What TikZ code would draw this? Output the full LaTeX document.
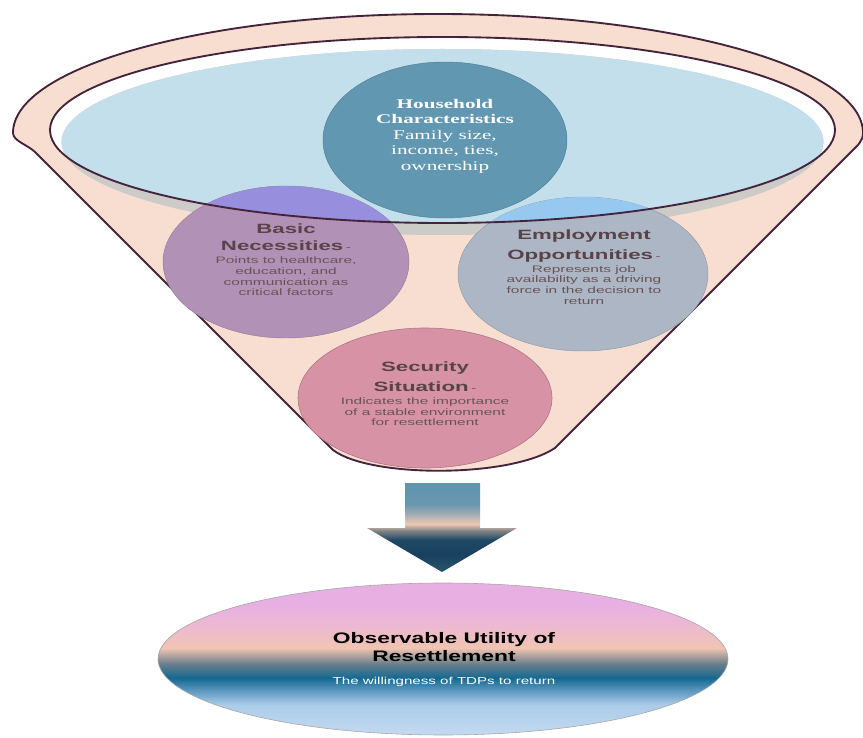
\documentclass[tikz,border=0pt]{standalone}
\usepackage{fontspec}
\setmainfont{Liberation Serif}
\setsansfont{Liberation Sans}
\usetikzlibrary{calc}

% --- Couleurs ---
\definecolor{entonnoir}{RGB}{248,222,208}
\definecolor{bord}{RGB}{68,36,60}
\definecolor{eau}{RGB}{194,223,235}
\definecolor{ombre}{RGB}{205,203,200}
\definecolor{menage}{RGB}{97,151,177}
\definecolor{besoins}{RGB}{178,145,182}
\definecolor{besoinshaut}{RGB}{152,142,222}
\definecolor{emploi}{RGB}{172,182,197}
\definecolor{emploihaut}{RGB}{150,200,240}
\definecolor{securite}{RGB}{215,147,165}
\definecolor{titre}{RGB}{88,68,72}
\definecolor{corps}{RGB}{104,84,88}
% fleche
\definecolor{fa}{RGB}{40,85,110}
\definecolor{fb}{RGB}{25,65,95}
\definecolor{fc}{RGB}{30,72,100}
\definecolor{fd}{RGB}{125,128,132}
\definecolor{fe}{RGB}{238,200,180}
\definecolor{ff}{RGB}{170,175,180}
\definecolor{fg}{RGB}{105,150,175}
\definecolor{fh}{RGB}{95,148,172}
% ellipse du bas
\definecolor{ra}{RGB}{195,218,240}
\definecolor{rb}{RGB}{172,204,234}
\definecolor{rc}{RGB}{90,150,190}
\definecolor{rd}{RGB}{20,105,145}
\definecolor{re}{RGB}{105,126,140}
\definecolor{rf}{RGB}{240,196,178}
\definecolor{rg}{RGB}{236,185,210}
\definecolor{rh}{RGB}{232,176,226}

\pgfdeclareverticalshading{fleche}{100bp}{color(0bp)=(fa); color(25bp)=(fa);
  color(34.6bp)=(fb); color(43bp)=(fc); color(48bp)=(fd); color(52bp)=(fe);
  color(57bp)=(ff); color(63bp)=(fg); color(75bp)=(fh); color(100bp)=(fh)}
\pgfdeclareverticalshading{resultat}{100bp}{color(0bp)=(ra); color(25bp)=(ra);
  color(34.9bp)=(rb); color(39.8bp)=(rc); color(43.75bp)=(rd); color(48.4bp)=(re);
  color(53.6bp)=(rf); color(61.2bp)=(rg); color(67.8bp)=(rh); color(100bp)=(rh)}

\newcommand{\ftitre}[1]{{\color{titre}\bfseries\fontsize{11.5}{13.6}\selectfont #1}}

\tikzset{
  trait/.style={draw=bord, line width=1.6pt, line join=round},
  facteur/.style={align=center, xscale=1.65, text=corps,
    font=\sffamily\fontsize{8}{9.1}\selectfont},
  menagetxt/.style={align=center, xscale=1.6, text=white,
    font=\rmfamily\fontsize{11.3}{13.2}\selectfont},
}

\begin{document}
\begin{tikzpicture}[x=0.03cm, y=-0.03cm]
    \useasboundingbox (0,0) rectangle (863,738);

    % --- Points de construction ---
    \coordinate (C) at (442.5,130);   % centre du bord interieur
    \coordinate (L) at (442.5,142);   % centre du liquide
    \coordinate (M) at (445,140);     % menage
    \coordinate (B) at (286,262);     % besoins de base
    \coordinate (E) at (583,274);     % emploi
    \coordinate (S) at (425,398);     % securite
    \coordinate (R) at (443,659);     % resultat

    % --- Corps de l'entonnoir ---
    \path[fill=entonnoir, trait]
        (333,450) -- (35,152) .. controls (28,145) and (13,141) .. (13,133)
        arc[start angle=180, end angle=360, x radius=425, y radius=119]
        .. controls (863,141) and (858,145) .. (851,152) -- (555,448)
        .. controls (510,478) and (370,478) .. (333,450) -- cycle;

    % --- Liquide et ombre ---
    \fill[white] (C) ellipse[x radius=392.5, y radius=93];
    \fill[ombre] (L) ellipse[x radius=381, y radius=93];
    \begin{scope}
        \clip (C) ellipse[x radius=392.5, y radius=93];
        \fill[eau] (L) ellipse[x radius=381, y radius=93];
    \end{scope}

    % --- Les quatre facteurs ---
    \filldraw[fill=besoins, draw=besoins!85!black, line width=0.4pt]
        (B) ellipse[x radius=123, y radius=76];
    \filldraw[fill=emploi, draw=emploi!85!black, line width=0.4pt]
        (E) ellipse[x radius=125, y radius=77];
    \filldraw[fill=securite, draw=securite!80!black, line width=0.5pt]
        (S) ellipse[x radius=127, y radius=70];
    \begin{scope}
        \clip (C) ellipse[x radius=392.5, y radius=93];
        \fill[besoinshaut] (B) ellipse[x radius=123, y radius=76];
        \fill[emploihaut] (E) ellipse[x radius=125, y radius=77];
    \end{scope}
    \filldraw[fill=menage, draw=menage!85!black, line width=0.4pt]
        (M) ellipse[x radius=122, y radius=78];

    % bord interieur par-dessus
    \draw[trait] (C) ellipse[x radius=392.5, y radius=93];

    % --- Textes ---
    \node[menagetxt] (menage) at (445,136)
        {\textbf{Household}\\\textbf{Characteristics}\\Family size,\\income, ties,\\ownership};
    \node[facteur] (besoins) at (286,260)
        {\ftitre{Basic}\\[5.3pt]\ftitre{Necessities}\,-\\[2pt]Points to healthcare,\\
         education, and\\communication as\\critical factors};
    \node[facteur] (emploi) at (584,267)
        {\ftitre{Employment}\\[5.3pt]\ftitre{Opportunities}\,-\\[2pt]Represents job\\
         availability as a driving\\force in the decision to\\return};
    \node[facteur] (securite) at (425,394)
        {\ftitre{Security}\\[5.3pt]\ftitre{Situation}\,-\\[2pt]Indicates the importance\\
         of a stable environment\\for resettlement};

    % --- Fleche ---
    \shade[shading=fleche]
        (405,483) -- (480,483) -- (480,528) -- (517,528) -- (442,572)
        -- (367,528) -- (405,528) -- cycle;

    % --- Resultat ---
    \shadedraw[shading=resultat, draw=gray!70, line width=0.5pt]
        (R) ellipse[x radius=285, y radius=76];
    \node[align=center, xscale=1.5, font=\sffamily\bfseries\fontsize{13}{15.5}\selectfont]
        (resultat) at (444,647) {Observable Utility of\\Resettlement};
    \node[xscale=1.5, text=white, font=\sffamily\fontsize{8.6}{10}\selectfont]
        (volonte) at (444,682) {The willingness of TDPs to return};

\end{tikzpicture}
\end{document}
